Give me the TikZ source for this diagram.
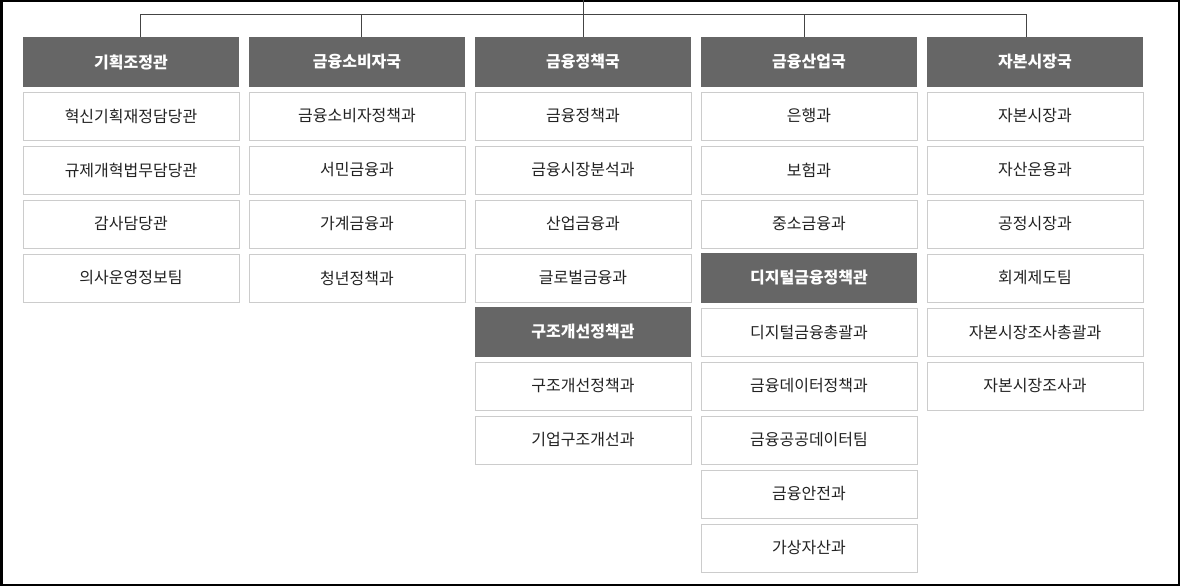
\documentclass[tikz,border=0pt]{standalone}
\usepackage{fontspec}
\setmainfont{Noto Sans CJK KR}
\usepackage{tikz}

\definecolor{headgray}{HTML}{666666}
\definecolor{boxline}{HTML}{CCCCCC}
\definecolor{linkgray}{HTML}{444444}
\definecolor{textgray}{HTML}{222222}

\tikzset{
	unitbox/.style={draw=boxline,line width=1pt,fill=white,text=textgray,
		minimum width=216pt,minimum height=48pt,inner sep=0pt,
		font=\fontsize{16pt}{19pt}\selectfont},
	headbox/.style={fill=headgray,text=white,
		minimum width=216pt,minimum height=50pt,inner sep=0pt,
		font=\fontsize{16pt}{19pt}\selectfont\bfseries},
	link/.style={draw=linkgray,line width=1pt}
}

\begin{document}
\begin{tikzpicture}[x=1pt,y=-1pt]

\useasboundingbox (0,0) rectangle (1180,586);
\draw[black,line width=2.5pt] (1.25,1.25) rectangle (1178.75,584.75);

% heads of the five bureaus
\begin{scope}[every node/.style={headbox}]
	\node (c1h) at (131,62) {기획조정관};
	\node (c2h) at (357,62) {금융소비자국};
	\node (c3h) at (583,62) {금융정책국};
	\node (c4h) at (809,62) {금융산업국};
	\node (c5h) at (1035,62) {자본시장국};
	\node (c3s) at (583,332) {구조개선정책관};
	\node (c4s) at (809,278) {디지털금융정책관};
\end{scope}

\begin{scope}[every node/.style={unitbox}]
	\node (c1u1) at (131,116) {혁신기획재정담당관};
	\node (c1u2) at (131,170) {규제개혁법무담당관};
	\node (c1u3) at (131,224) {감사담당관};
	\node (c1u4) at (131,278) {의사운영정보팀};

	\node (c2u1) at (357,116) {금융소비자정책과};
	\node (c2u2) at (357,170) {서민금융과};
	\node (c2u3) at (357,224) {가계금융과};
	\node (c2u4) at (357,278) {청년정책과};

	\node (c3u1) at (583,116) {금융정책과};
	\node (c3u2) at (583,170) {금융시장분석과};
	\node (c3u3) at (583,224) {산업금융과};
	\node (c3u4) at (583,278) {글로벌금융과};
	\node (c3u5) at (583,386) {구조개선정책과};
	\node (c3u6) at (583,440) {기업구조개선과};

	\node (c4u1) at (809,116) {은행과};
	\node (c4u2) at (809,170) {보험과};
	\node (c4u3) at (809,224) {중소금융과};
	\node (c4u4) at (809,332) {디지털금융총괄과};
	\node (c4u5) at (809,386) {금융데이터정책과};
	\node (c4u6) at (809,440) {금융공공데이터팀};
	\node (c4u7) at (809,494) {금융안전과};
	\node (c4u8) at (809,548) {가상자산과};

	\node (c5u1) at (1035,116) {자본시장과};
	\node (c5u2) at (1035,170) {자산운용과};
	\node (c5u3) at (1035,224) {공정시장과};
	\node (c5u4) at (1035,278) {회계제도팀};
	\node (c5u5) at (1035,332) {자본시장조사총괄과};
	\node (c5u6) at (1035,386) {자본시장조사과};
\end{scope}

% tree on top
\coordinate (top) at (583,0);
\coordinate (bar) at (583,15);
\begin{scope}[every path/.style={link}]
	\path (top) -- (c3h.north);
	\path ([xshift=9pt]c1h.north) -- ([xshift=9pt]c1h.north |- bar)
		-- ([xshift=-9pt]c5h.north |- bar) -- ([xshift=-9pt]c5h.north);
	\path ([xshift=4.5pt]c2h.north) -- ([xshift=4.5pt]c2h.north |- bar);
	\path ([xshift=-4.5pt]c4h.north) -- ([xshift=-4.5pt]c4h.north |- bar);
\end{scope}

\end{tikzpicture}
\end{document}
